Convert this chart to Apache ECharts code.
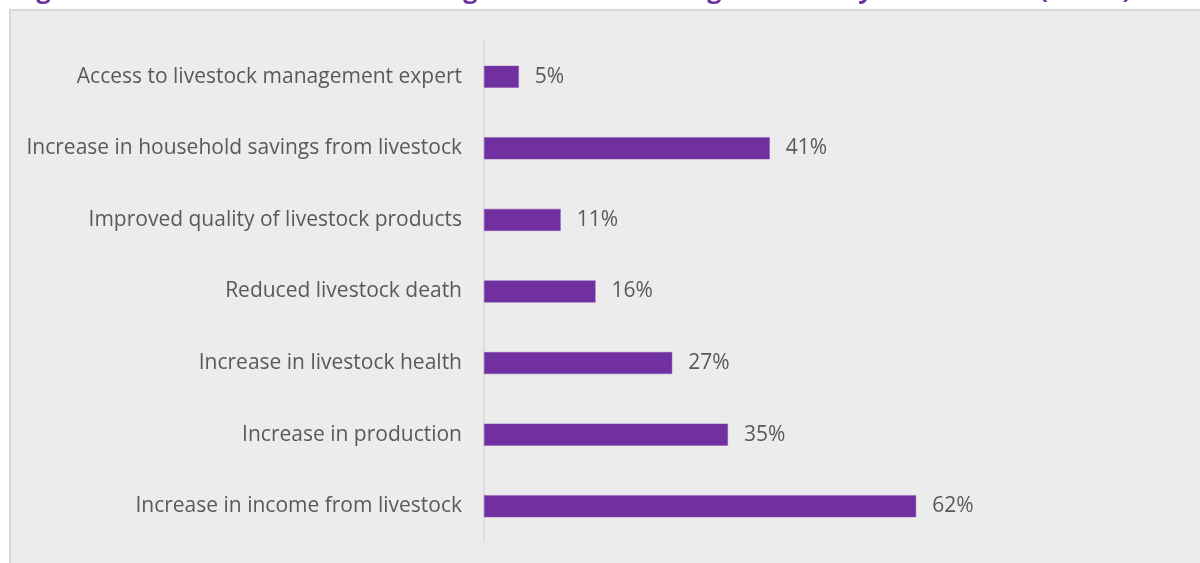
<!DOCTYPE html>
<html>
<head>
<meta charset="utf-8">
<script src="https://cdn.jsdelivr.net/npm/echarts@6/dist/echarts.min.js"></script>
<style>
  html, body { margin: 0; padding: 0; background: #ffffff; }
  #chart { width: 1200px; height: 563px; }
</style>
</head>
<body>
<div id="chart"></div>
<script>
// Benefits reported by trainees (share of respondents, %)
const categories = [
  'Access to livestock management expert',
  'Increase in household savings from livestock',
  'Improved quality of livestock products',
  'Reduced livestock death',
  'Increase in livestock health',
  'Increase in production',
  'Increase in income from livestock'
];
const shares = [5, 41, 11, 16, 27, 35, 62];
const titleText = 'Figure 7: Benefits of livestock management and training received by the trainees (n=120)';

const purple = '#7030a0';
const textGrey = '#595959';

const chart = echarts.init(document.getElementById('chart'), null, { renderer: 'canvas' });

chart.setOption({
  backgroundColor: '#ffffff',
  animation: false,
  graphic: [
    {
      type: 'rect',
      z: -10,
      shape: { x: 10, y: 10, width: 1200, height: 560 },
      style: { fill: '#ececec', stroke: '#d9d9d9', lineWidth: 2 }
    },
    {
      type: 'text',
      z: 10,
      x: 15,
      y: 3,
      style: {
        text: titleText,
        fill: purple,
        font: 'bold 25.3px "Open Sans"',
        verticalAlign: 'bottom',
        align: 'left'
      }
    }
  ],
  grid: { left: 484, right: 19, top: 41, bottom: 21, containLabel: false },
  xAxis: {
    type: 'value',
    min: 0,
    max: 100,
    show: false
  },
  yAxis: {
    type: 'category',
    data: categories,
    inverse: true,
    axisLine: { show: true, lineStyle: { color: '#d9d9d9', width: 1.5 } },
    axisTick: { show: false },
    axisLabel: {
      color: textGrey,
      fontSize: 21,
      fontFamily: 'Open Sans',
      margin: 22,
      padding: [3, 0, 0, 0]
    },
    splitLine: { show: false }
  },
  series: [{
    type: 'bar',
    data: shares,
    barWidth: 22,
    itemStyle: { color: purple, borderColor: '#8a55b5', borderWidth: 0.5 },
    label: {
      show: true,
      position: 'right',
      distance: 16,
      formatter: '{c}%',
      color: textGrey,
      fontSize: 21,
      fontFamily: 'Open Sans',
      padding: [3, 0, 0, 0]
    }
  }]
});
</script>
</body>
</html>
